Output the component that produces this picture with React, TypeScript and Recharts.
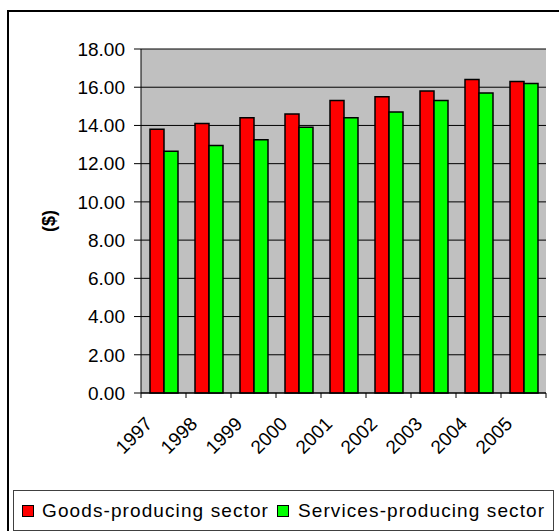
import React from "react";
import {
  BarChart,
  Bar,
  XAxis,
  YAxis,
  CartesianGrid,
  Legend,
} from "recharts";

const years = ["1997", "1998", "1999", "2000", "2001", "2002", "2003", "2004", "2005"];
const goods = [13.8, 14.1, 14.4, 14.6, 15.3, 15.5, 15.8, 16.4, 16.3];
const services = [12.65, 12.95, 13.25, 13.9, 14.4, 14.7, 15.3, 15.7, 16.2];
const yTicks = [0, 2, 4, 6, 8, 10, 12, 14, 16, 18];

const data = years.map((year, i) => ({ year, goods: goods[i], services: services[i] }));

const FONT = "'Liberation Sans', Arial, sans-serif";

const XTick = (props: any) => {
  const { x, y, payload, index } = props;
  const half = payload?.offset ?? 22.5;
  const px = x - 10;
  const py = y + 32;
  return (
    <g>
      <line x1={x - half} y1={y} x2={x - half} y2={y + 5} stroke="#000" />
      {index === years.length - 1 ? (
        <line x1={x + half} y1={y} x2={x + half} y2={y + 5} stroke="#000" />
      ) : null}
      <text
        x={px}
        y={py}
        textAnchor="end"
        transform={`rotate(-45, ${px}, ${py})`}
        fontSize={19}
        fontFamily={FONT}
        fill="#000"
      >
        {payload.value}
      </text>
    </g>
  );
};

const YLabel = (props: any) => {
  const { viewBox } = props;
  const cx = viewBox.x + 49;
  const cy = viewBox.y + viewBox.height / 2;
  return (
    <text
      x={cx}
      y={cy}
      textAnchor="middle"
      dominantBaseline="central"
      transform={`rotate(-90, ${cx}, ${cy})`}
      fontSize={18}
      fontWeight="bold"
      fontFamily={FONT}
      fill="#000"
    >
      ($)
    </text>
  );
};

const swatch = (color: string) => (
  <span
    style={{
      display: "inline-block",
      width: 10,
      height: 10,
      background: color,
      border: "1px solid #000",
    }}
  />
);

const LegendBox = () => (
  <div
    style={{
      boxSizing: "border-box",
      width: 541,
      height: 41,
      border: "1px solid #404040",
      display: "flex",
      alignItems: "center",
      fontFamily: FONT,
      fontSize: 19,
      letterSpacing: 1.1,
      color: "#000",
      background: "#fff",
    }}
  >
    <span style={{ marginLeft: 8, display: "flex" }}>{swatch("#FF0000")}</span>
    <span style={{ marginLeft: 8 }}>Goods-producing sector</span>
    <span style={{ marginLeft: 8, display: "flex" }}>{swatch("#00FF00")}</span>
    <span style={{ marginLeft: 9 }}>Services-producing sector</span>
  </div>
);

export default function App() {
  return (
    <div
      style={{
        position: "fixed",
        left: 0,
        top: 0,
        width: 559,
        height: 531,
        overflow: "hidden",
        background: "#fff",
      }}
    >
      <div
        style={{
          position: "absolute",
          left: 7,
          top: 10,
          width: 600,
          height: 600,
          border: "2px solid #000",
        }}
      />
      <div style={{ position: "absolute", left: 0, top: 0 }}>
        <BarChart
          width={559}
          height={531}
          data={data}
          margin={{ top: 49, right: 13, left: 0, bottom: 78 }}
          barCategoryGap="20%"
          barGap={0}
        >
          <CartesianGrid
            vertical={false}
            stroke="#000"
            fill="#C0C0C0"
            fillOpacity={1}
          />
          <XAxis
            dataKey="year"
            interval={0}
            height={60}
            tickLine={false}
            tickSize={0}
            tickMargin={0}
            axisLine={{ stroke: "#000" }}
            tick={<XTick />}
          />
          <XAxis
            xAxisId="top"
            dataKey="year"
            orientation="top"
            height={0}
            tick={false}
            tickLine={false}
            axisLine={{ stroke: "#808080" }}
          />
          <YAxis
            width={141}
            domain={[0, 18]}
            ticks={yTicks}
            interval={0}
            tickFormatter={(v: number) => v.toFixed(2)}
            tick={{ fill: "#000", fontSize: 19, fontFamily: FONT }}
            tickSize={7}
            tickMargin={9}
            tickLine={{ stroke: "#000" }}
            axisLine={{ stroke: "#000" }}
            label={<YLabel />}
          />
          <YAxis
            yAxisId="right"
            orientation="right"
            width={0}
            domain={[0, 18]}
            tick={false}
            tickLine={false}
            axisLine={{ stroke: "#808080" }}
          />
          <Legend
            verticalAlign="middle"
            layout="horizontal"
            content={<LegendBox />}
            wrapperStyle={{ top: 490, left: 13, width: 541, height: 41 }}
          />
          <Bar
            dataKey="goods"
            name="Goods-producing sector"
            fill="#FF0000"
            stroke="#000"
            strokeWidth={1.5}
            isAnimationActive={false}
          />
          <Bar
            dataKey="services"
            name="Services-producing sector"
            fill="#00FF00"
            stroke="#000"
            strokeWidth={1.5}
            isAnimationActive={false}
          />
        </BarChart>
      </div>
    </div>
  );
}
